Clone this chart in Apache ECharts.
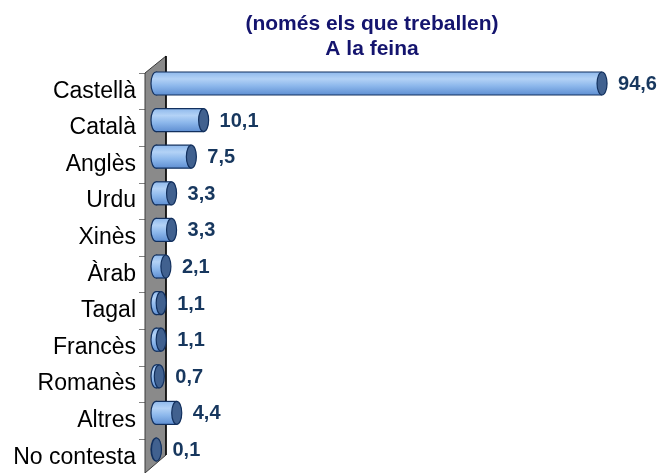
<!DOCTYPE html>
<html>
<head>
<meta charset="utf-8">
<script src="https://cdn.jsdelivr.net/npm/echarts@6/dist/echarts.min.js"></script>
<style>html,body{margin:0;padding:0;background:#fff;}#c{width:661px;height:473px;}</style>
</head>
<body>
<div id="c"></div>
<script>
const titleLines = ['(només els que treballen)', 'A la feina'];
const categories = ['Castellà', 'Català', 'Anglès', 'Urdu', 'Xinès', 'Àrab', 'Tagal', 'Francès', 'Romanès', 'Altres', 'No contesta'];
const values = [94.6, 10.1, 7.5, 3.3, 3.3, 2.1, 1.1, 1.1, 0.7, 4.4, 0.1];

const chart = echarts.init(document.getElementById('c'), null, {renderer: 'canvas'});
const seriesData = values.map((v, i) => [v, i]);

function fmt(v) { return v.toFixed(1).replace('.', ','); }

const bodyFill = new echarts.graphic.LinearGradient(0, 0, 0, 1, [
  {offset: 0, color: '#8fb9ec'},
  {offset: 0.3, color: '#b3d2f6'},
  {offset: 0.6, color: '#8db8ec'},
  {offset: 1, color: '#5f8fd2'}
]);

const option = {
  backgroundColor: '#ffffff',
  animation: false,
  title: {
    text: titleLines.join('\n'),
    left: 367,
    top: 7,
    textAlign: 'center',
    textStyle: {fontFamily: 'Liberation Sans, Arial, sans-serif', fontWeight: 'bold', fontSize: 21, lineHeight: 25, color: '#14146e'}
  },
  grid: {left: 145, top: 73, width: 471.5, height: 402.6, containLabel: false, outerBoundsMode: 'none'},
  xAxis: {type: 'value', min: 0, max: 100, show: false},
  yAxis: {
    type: 'category',
    data: categories,
    inverse: true,
    axisLine: {show: false},
    axisTick: {show: true, length: 6, lineStyle: {color: '#808080', width: 1}},
    axisLabel: {fontFamily: 'Liberation Sans, Arial, sans-serif', fontSize: 23, color: '#000000', margin: 9}
  },
  graphic: [
    {
      type: 'polygon', z: 1,
      shape: {points: [[145, 73], [166, 56], [166, 455], [145, 473]]},
      style: {fill: '#8a8a8a', stroke: '#3a3a3a', lineWidth: 1}
    },
    {
      type: 'line', z: 1,
      shape: {x1: 166, y1: 56, x2: 166, y2: 455},
      style: {stroke: '#000000', lineWidth: 1.5}
    }
  ],
  series: [{
    type: 'custom',
    z: 5,
    data: seriesData,
    encode: {x: 0, y: 1},
    renderItem: function (params, api) {
      const v = api.value(0), i = api.value(1);
      const p0 = api.coord([0, i]);
      const p1 = api.coord([v, i]);
      const dx = 11, dy = -7.8, h = 23, rx = 5;
      const x0 = p0[0] + dx, x1 = p1[0] + dx, cy = p0[1] + dy;
      const edge = '#12305e';
      return {
        type: 'group',
        children: [
          {type: 'ellipse', shape: {cx: x0, cy: cy, rx: rx, ry: h / 2}, style: {fill: bodyFill, stroke: edge, lineWidth: 1.2}},
          {type: 'rect', shape: {x: x0, y: cy - h / 2, width: Math.max(x1 - x0, 0), height: h}, style: {fill: bodyFill}},
          {type: 'line', shape: {x1: x0, y1: cy - h / 2, x2: x1, y2: cy - h / 2}, style: {stroke: edge, lineWidth: 1.2}},
          {type: 'line', shape: {x1: x0, y1: cy + h / 2, x2: x1, y2: cy + h / 2}, style: {stroke: edge, lineWidth: 1.2}},
          {type: 'ellipse', shape: {cx: x1, cy: cy, rx: rx, ry: h / 2}, style: {fill: '#41618f', stroke: edge, lineWidth: 1.2}},
          {type: 'text', style: {x: x1 + rx + 11, y: cy + 1, text: fmt(v), align: 'left', verticalAlign: 'middle',
            fill: '#17375e', font: 'bold 20px "Liberation Sans", Arial, sans-serif'}}
        ]
      };
    }
  }]
};
chart.setOption(option);
</script>
</body>
</html>
